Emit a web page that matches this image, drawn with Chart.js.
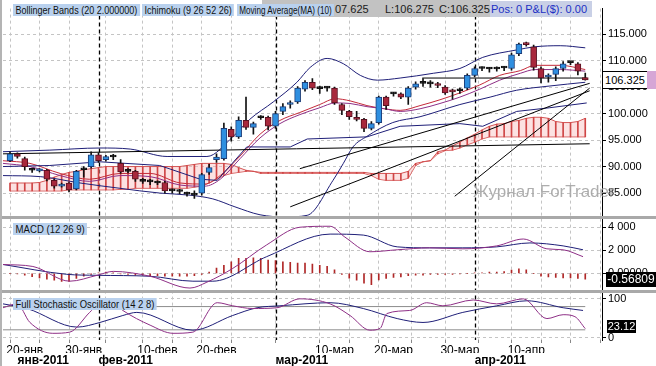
<!DOCTYPE html>
<html>
<head>
<meta charset="utf-8">
<script src="https://cdn.jsdelivr.net/npm/chart.js@4.4.1/dist/chart.umd.min.js"></script>
<style>
html, body { margin: 0; padding: 0; background: #fff; }
#wrap { position: relative; width: 656px; height: 366px; overflow: hidden; font-family: "Liberation Sans", Arial, sans-serif; }
#c { position: absolute; left: 0; top: 0; }
.tag { position: absolute; height: 12px; line-height: 12px; font-size: 11px; background: #b9d1ee; color: #111; padding: 0 3px; white-space: nowrap; transform-origin: 0 0; }
.txt { position: absolute; font-size: 11px; line-height: 12px; white-space: nowrap; color: #1a1a1a; }
.val { position: absolute; text-align: center; white-space: nowrap; }
</style>
</head>
<body>
<div id="wrap">
  <canvas id="c" width="656" height="366"></canvas>

  <div style="position:absolute;left:262px;top:0;width:228px;height:17px;background:#c2c2c2"></div>
  <div class="txt" style="left:335px;top:3px">07.625</div>
  <div class="txt" style="left:385px;top:3px">L:106.275</div>
  <div class="txt" style="left:439px;top:3px">C:106.325</div>
  <div style="position:absolute;left:490px;top:1px;width:102px;height:16px;background:#c9d0e6"></div>
  <div class="txt" style="left:491px;top:3px;color:#1b2fc4">Pos: 0 P&amp;L($): 0.00</div>

  <div class="tag" style="left:13px;top:4px;transform:scaleX(.82)">Bollinger Bands (20 2.000000)</div>
  <div class="tag" style="left:142px;top:4px;transform:scaleX(.82)">Ichimoku (9 26 52 26)</div>
  <div class="tag" style="left:237px;top:4px;transform:scaleX(.74)">Moving Average(MA) (10)</div>
  <div class="tag" style="left:13px;top:223px;transform:scaleX(.87)">MACD (12 26 9)</div>
  <div class="tag" style="left:13px;top:298px;transform:scaleX(.86)">Full Stochastic Oscillator (14 2 8)</div>

  <div style="position:absolute;left:473px;top:182px;font-size:17px;color:rgba(160,160,160,.85);white-space:nowrap">Журнал ForTrader</div>

  <div id="lastBox" class="val" style="left:602px;top:66px;width:44px;height:16px;line-height:16px;border:1px solid #000;background:#fff;font-size:11px;color:#000">106.325</div>
  <div id="lastPink" style="position:absolute;left:647px;top:66px;width:9px;height:18px;background:#d6a6d6"></div>
  <div class="val" style="left:606px;top:272px;width:50px;height:15px;line-height:15px;background:#000;color:#fff;font-size:12px">-0.56809</div>
  <div class="val" style="left:607px;top:320px;width:29px;height:13px;line-height:13px;background:#000;color:#fff;font-size:11px">23.12</div>
</div>

<script>
// ---- candles (daily, 18 Jan - 19 Apr 2011) ----
const opens = [
  91.1, 92.4, 91.5, 89.4, 89.2, 89.3, 87.4, 86.3, 86.9, 85.8,
  89.4, 90.0, 92.2, 91.3, 91.9, 90.6, 89.2, 89.1, 87.3, 87.2,
  87.0, 87.0, 85.5, 85.4, 84.8, 84.6, 85.0, 88.9, 91.3, 91.5,
  97.0, 95.6, 98.7, 97.4, 99.3, 99.3, 97.6, 100.4, 101.7, 102.2,
  104.6, 105.9, 104.8, 104.8, 104.8, 101.7, 100.4, 99.3, 98.9, 97.2,
  98.3, 103.1, 103.7, 103.7, 103.1, 105.0, 105.7, 105.6, 105.6, 105.0,
  104.4, 104.3, 104.8, 107.2, 108.5, 108.4, 108.4, 108.6, 108.5, 111.3,
  113.3, 112.6, 108.5, 106.9, 107.4, 108.5, 109.6, 109.4, 106.8
];
const highs = [
  92.8, 92.6, 91.8, 89.7, 89.6, 89.5, 87.6, 86.9, 87.0, 89.3,
  90.0, 92.8, 92.6, 92.1, 92.3, 91.3, 89.6, 89.3, 87.8, 87.6,
  87.3, 87.2, 85.8, 85.7, 85.2, 85.4, 88.7, 90.4, 92.4, 98.2,
  97.5, 99.4, 103.1, 98.4, 99.6, 99.5, 100.4, 101.9, 102.4, 105.1,
  106.2, 106.6, 105.2, 105.1, 105.0, 101.9, 100.6, 100.4, 99.1, 98.5,
  103.3, 103.3, 104.0, 103.9, 105.1, 106.0, 106.6, 106.2, 105.9, 105.3,
  104.6, 104.8, 107.5, 108.8, 108.8, 108.7, 108.8, 108.9, 111.4, 113.3,
  113.5, 112.9, 108.8, 107.5, 108.8, 109.8, 109.8, 109.6, 107.625
];
const lows = [
  90.9, 91.6, 89.3, 88.9, 89.0, 87.3, 85.9, 86.1, 85.2, 85.6,
  88.0, 89.7, 90.8, 91.0, 91.3, 88.7, 88.8, 87.2, 86.8, 86.6,
  86.6, 85.0, 85.0, 84.9, 84.4, 84.0, 84.6, 88.5, 90.8, 91.2,
  94.8, 95.3, 97.0, 96.1, 98.9, 96.9, 97.2, 99.8, 101.0, 101.9,
  104.2, 104.5, 103.8, 104.2, 101.7, 99.8, 98.9, 98.6, 96.6, 96.9,
  98.0, 100.8, 103.3, 102.8, 101.7, 104.6, 105.1, 105.0, 104.9, 103.6,
  102.7, 103.8, 104.5, 106.9, 108.1, 107.8, 108.0, 108.1, 108.2, 110.9,
  112.7, 108.2, 105.8, 105.9, 106.2, 108.0, 109.2, 107.3, 106.275
];
const closes = [
  92.4, 91.9, 90.0, 89.3, 89.4, 87.6, 86.3, 86.7, 85.6, 89.1,
  89.5, 92.2, 91.1, 91.9, 91.8, 89.0, 89.1, 87.6, 87.2, 87.1,
  86.9, 85.4, 85.4, 85.3, 84.8, 84.7, 88.5, 89.8, 91.8, 97.2,
  95.6, 98.7, 97.4, 98.1, 99.2, 97.6, 100.0, 101.3, 102.0, 104.8,
  105.9, 104.8, 104.7, 104.8, 102.0, 100.6, 99.4, 98.9, 97.2, 98.1,
  103.1, 101.5, 103.7, 103.1, 104.8, 105.6, 105.7, 105.6, 105.3, 103.9,
  104.1, 104.4, 107.2, 108.5, 108.5, 108.4, 108.5, 108.6, 111.1, 113.1,
  113.0, 108.7, 106.7, 107.2, 108.5, 109.4, 109.6, 108.0, 106.325
];

// ---- Ichimoku cloud edges, one value per candle ----
const senkouA = [
  86.9, 86.9, 86.9, 86.9, 87.0, 87.4, 88.0, 88.5, 88.9, 89.1,
  89.4, 89.6, 89.8, 90.0, 90.0, 90.0, 90.0, 90.0, 90.0, 90.0,
  90.0, 90.0, 90.0, 90.0, 90.2, 90.4, 90.6, 90.6, 90.6, 90.6,
  90.4, 89.8, 89.3, 89.1, 88.9, 88.9, 88.9, 88.9, 88.9, 88.9,
  88.9, 88.9, 88.9, 88.9, 88.9, 88.9, 88.9, 88.9, 88.9, 88.7,
  88.7, 88.7, 88.7, 88.7, 89.1, 90.6, 90.9, 91.1, 92.8, 93.1,
  93.9, 94.6, 95.4, 96.1, 96.9, 97.6, 98.0, 98.1, 98.5, 98.7,
  99.1, 99.3, 99.3, 99.1, 98.5, 98.3, 98.3, 98.5, 99.1
];
const senkouB = [
  85.4, 85.4, 85.4, 85.4, 85.4, 85.4, 85.4, 85.4, 85.6, 85.6,
  85.6, 85.6, 85.6, 85.6, 85.6, 85.7, 85.7, 85.9, 85.9, 85.9,
  85.9, 85.9, 85.9, 85.9, 85.9, 86.1, 86.3, 86.9, 87.6, 88.3,
  88.7, 88.9, 89.1, 89.1, 88.7, 88.7, 88.7, 88.7, 88.7, 88.7,
  88.7, 88.7, 88.7, 88.7, 88.7, 88.7, 88.7, 88.7, 88.7, 88.3,
  87.6, 87.4, 87.4, 87.4, 87.8, 90.2, 90.9, 91.1, 92.4, 93.0,
  93.1, 93.5, 94.1, 94.6, 95.2, 95.6, 95.6, 95.6, 95.6, 95.6,
  95.6, 95.6, 95.6, 95.6, 95.6, 95.6, 95.6, 95.6, 95.6
];

// ---- indicator lines, [candle index, value] ----
const bbUpper = [[-0.95,92.8],[5.4,93.1],[12.2,93.5],[16.3,93.3],[21.3,91.9],[26.7,91.9],[30.2,95.6],[32.5,98.9],[35.7,102.2],[38.9,105.9],[40.7,108.7],[43.0,110.4],[45.2,109.4],[47.5,107.2],[49.8,106.3],[52.9,106.7],[57.4,107.6],[61.0,108.5],[64.1,110.6],[68.7,112.0],[71.2,112.6],[74.6,112.8],[78.0,112.4]];
const bbLower = [[-0.95,88.3],[4.1,88.1],[9.5,86.9],[14.9,85.9],[20.3,85.0],[24.4,84.6],[27.5,83.9],[30.5,82.4],[33.9,80.9],[37.3,80.5],[40.3,80.8],[43.8,87.4],[45.2,90.6],[46.5,93.7],[48.4,95.7],[51.9,98.3],[55.6,99.4],[61.0,101.7],[65.1,103.1],[68.7,104.4],[73.2,105.2],[78.0,105.9]];
const kijun = [[-0.95,90.0],[5.4,90.2],[12.2,90.9],[20.3,90.2],[25.8,87.6],[28.1,87.4],[32.1,93.7],[38.0,93.7],[40.3,95.2],[48.4,95.6],[52.9,97.6],[61.0,98.1],[64.1,97.6],[68.7,100.4],[73.2,101.1],[78.2,102.0]];
const ma10 = [[-0.95,91.1],[2.7,90.6],[6.8,88.7],[10.8,87.6],[14.9,88.7],[19.0,88.7],[23.1,86.9],[26.4,86.7],[28.5,88.3],[31.2,92.0],[33.9,96.1],[36.6,98.7],[39.3,100.2],[42.0,101.7],[44.1,102.8],[46.1,102.4],[48.4,101.5],[50.8,100.9],[52.9,100.6],[55.6,101.5],[58.3,102.6],[61.0,103.9],[63.7,105.4],[66.4,107.2],[69.2,108.1],[71.2,109.1],[74.6,109.1],[78.0,108.3]];
const tenkan = [[-0.95,90.6],[2.7,90.0],[6.8,88.3],[10.8,87.2],[14.9,88.3],[19.0,88.1],[23.1,86.5],[26.4,86.3],[28.5,87.6],[31.2,91.5],[33.9,95.4],[36.6,98.1],[39.3,99.8],[42.0,101.1],[44.1,102.0],[46.1,101.9],[48.4,101.3],[50.8,100.9],[52.9,100.4],[55.6,100.9],[58.3,101.9],[61.0,103.1],[63.7,104.6],[66.4,106.3],[69.2,107.6],[71.2,108.3],[74.6,108.3],[78.0,108.0]];
// hand-drawn trend lines: [x1, price1, x2, price2]
const trendLines = [[55.9,106.7,78.2,106.7],[-0.95,92.4,78.6,94.3],[38.0,82.4,78.6,104.3],[39.3,89.6,78.6,105.7],[60.3,84.4,78.6,104.8]];

// ---- MACD ----
const macdLine = [[-0.95,766],[3.1,596],[8.1,-681],[11.8,-170],[14.0,170],[19.0,-255],[24.4,-1277],[26.7,-766],[30.2,426],[34.8,2468],[39.3,4000],[43.4,4085],[45.4,3149],[48.8,1872],[52.5,2043],[56.9,2213],[61.4,2128],[66.0,2383],[69.6,2979],[72.8,2128],[75.0,2043],[77.7,1447]];
const signalLine = [[-0.95,766],[7.7,-85],[11.8,-170],[19.0,-255],[24.8,-681],[27.5,-681],[34.8,1447],[43.4,3404],[47.9,3319],[52.5,2298],[56.9,2213],[61.4,2213],[66.0,2298],[70.5,2638],[75.0,2383],[77.7,2043]];
const hist = [
  0, -50, -150, -280, -400, -500, -600, -700, -700, -450,
  -250, -100, 50, 100, 50, -50, -100, -150, -150, -200,
  -200, -250, -250, -250, -250, -200, -100, 100, 450, 700,
  1000, 1300, 1300, 1350, 1300, 1150, 1100, 1000, 950, 880,
  880, 800, 700, 600, 300, -100, -425, -600, -850, -990,
  -570, -450, -350, -300, -200, -150, -150, -100, -100, -100,
  -100, -50, 0, 50, 50, 100, 100, 150, 280, 400,
  300, 0, -250, -300, -350, -400, -400, -450, -500
];

// ---- Full stochastic ----
const stochK = [[-0.95,77],[0.95,87],[2.7,39],[5.8,11],[8.1,14],[10.8,65],[11.8,82],[14.0,90],[15.3,70],[19.0,32],[22.1,11],[24.8,14],[28.1,90],[30.2,82],[32.9,75],[36.2,77],[39.3,100],[43.4,87],[46.1,57],[48.8,19],[50.2,24],[51.1,62],[54.2,70],[56.5,90],[58.7,82],[62.8,97],[66.0,87],[69.6,100],[72.8,49],[75.0,59],[76.6,54],[78.0,23]];
const stochD = [[-0.95,87],[2.3,75],[9.1,27],[12.2,39],[15.3,57],[17.2,65],[24.8,19],[30.2,57],[33.5,77],[36.6,82],[43.4,90],[47.9,75],[52.5,49],[56.0,39],[61.4,65],[66.0,82],[70.1,95],[75.0,77],[77.7,70]];
const stochLevels = [80, 20];

// ---- axes ----
const priceTicks = [85, 90, 95, 100, 105, 110, 115];
const macdTicks = [0, 2000, 4000];
const macdTickLabels = ['0.00000', '2 000', '4 000'];
const stochTicks = [0, 50, 100];
const gridIdx = [2, 6, 10, 16, 20, 24, 28, 32, 40, 44, 48, 52, 57, 61, 66, 70, 74, 78];
const dayIdx = [2, 10, 20, 28, 44, 52, 61, 70];
const dayLabels = ['20-янв', '30-янв', '10-фев', '20-фев', '10-мар', '20-мар', '30-мар', '10-апр'];
const monthIdx = [1, 12, 36, 63];
const monthLabels = ['янв-2011', 'фев-2011', 'мар-2011', 'апр-2011'];
const monthStartIdx = [12, 36, 63];

const FONT = '"Liberation Sans", Arial, sans-serif';
const NAVY = '#1f1f78';
const PURPLE = '#8e2f86';
const N = closes.length;
const idx = closes.map((_, i) => i);
const pts = arr => arr.map(([x, y]) => ({x, y}));
const isDoji = i => Math.abs(closes[i] - opens[i]) < 0.15;

function line(label, data, color, yAxisID, extra) {
  return Object.assign({
    type: 'line', label, data: pts(data), yAxisID,
    borderColor: color, borderWidth: 1, pointRadius: 0,
    cubicInterpolationMode: 'monotone', fill: false, order: 4
  }, extra || {});
}

const datasets = [
  // candle bodies
  {
    type: 'bar', label: 'body', yAxisID: 'y', order: 0, grouped: false,
    data: idx.map(i => ({x: i, y: [opens[i], closes[i]]})),
    backgroundColor: idx.map(i => isDoji(i) ? '#111' : (closes[i] > opens[i] ? '#2f8fe0' : '#a8283c')),
    borderColor: idx.map(i => isDoji(i) ? '#111' : (closes[i] > opens[i] ? '#1c3d78' : '#581020')),
    borderWidth: 1, borderSkipped: false, barThickness: 6, minBarLength: 2
  },
  // wicks
  {
    type: 'bar', label: 'wick', yAxisID: 'y', order: 1, grouped: false,
    data: idx.map(i => ({x: i, y: [lows[i], highs[i]]})),
    backgroundColor: '#111', barThickness: 1
  },
  // cloud
  line('Senkou A', senkouA.map((v, i) => [i, v]), '#d45656', 'y',
       {fill: '+1', backgroundColor: 'rgba(248,190,190,0.45)', cubicInterpolationMode: 'default', tension: 0, order: 9}),
  line('Senkou B', senkouB.map((v, i) => [i, v]), '#d45656', 'y',
       {cubicInterpolationMode: 'default', tension: 0, order: 9}),
  {
    type: 'bar', label: 'hatch', yAxisID: 'y', order: 8, grouped: false,
    data: idx.map(i => ({x: i, y: [senkouA[i], senkouB[i]]})),
    backgroundColor: '#cf4545', barThickness: 1
  },
  line('BB upper', bbUpper, NAVY, 'y'),
  line('BB lower', bbLower, NAVY, 'y'),
  line('Kijun', kijun, NAVY, 'y', {cubicInterpolationMode: 'default', tension: 0}),
  line('Tenkan', tenkan, PURPLE, 'y'),
  line('MA(10)', ma10, '#c42a3a', 'y'),
  ...trendLines.map((t, k) => line('trend' + k, [[t[0], t[1]], [t[2], t[3]]], '#000', 'y',
       {cubicInterpolationMode: 'default', tension: 0, order: 3})),
  // MACD
  {
    type: 'bar', label: 'hist', yAxisID: 'yMacd', order: 6, grouped: false,
    data: idx.map(i => ({x: i, y: hist[i]})),
    backgroundColor: '#b02828', barThickness: 1
  },
  line('MACD', macdLine, PURPLE, 'yMacd'),
  line('Signal', signalLine, NAVY, 'yMacd'),
  // Stochastic
  ...stochLevels.map(v => line('lvl' + v, [[-0.95, v], [N - 1, v]], '#8c8c8c', 'yStoch',
       {cubicInterpolationMode: 'default', tension: 0, order: 7})),
  line('%K', stochK, PURPLE, 'yStoch'),
  line('%D', stochD, NAVY, 'yStoch')
];

const decor = {
  id: 'decor',
  beforeDatasetsDraw(chart) {
    const {ctx, chartArea: a, scales: {x}} = chart;
    ctx.save();
    ctx.strokeStyle = '#000';
    ctx.lineWidth = 1.3;
    ctx.setLineDash([4, 3]);
    monthStartIdx.forEach(v => {
      const px = Math.round(x.getPixelForValue(v)) + 0.5;
      ctx.beginPath();
      ctx.moveTo(px, a.top);
      ctx.lineTo(px, a.bottom);
      ctx.stroke();
    });
    ctx.restore();
  },
  afterDraw(chart) {
    const {ctx, scales: {y, yMacd}} = chart;
    ctx.save();
    ctx.fillStyle = '#a9a9a9';
    [y.bottom, yMacd.bottom].forEach(b => ctx.fillRect(0, Math.round(b) - 1, chart.width, 3));
    ctx.fillStyle = '#b4b4b4';
    ctx.fillRect(0, 0, 2, chart.height);
    ctx.restore();
    const top = Math.round(y.getPixelForValue(closes[N - 1])) - 9;
    document.getElementById('lastBox').style.top = top + 'px';
    document.getElementById('lastPink').style.top = top + 'px';
  }
};

const gridOpts = {color: '#c4c4c4', lineWidth: 1, drawTicks: true, tickLength: 4, tickColor: '#000'};
const tickFont = {family: FONT, size: 11};

function yAxis(weight, min, max, ticks, labelFn) {
  return {
    type: 'linear', position: 'right', stack: 'panes', stackWeight: weight,
    min, max,
    afterBuildTicks: s => { s.ticks = ticks.map(v => ({value: v})); },
    afterFit: s => { s.width = 54; },
    ticks: {color: '#000', font: tickFont, padding: 2, callback: labelFn},
    grid: gridOpts,
    border: {display: true, color: '#000', width: 1, dash: [3, 3]}
  };
}

Chart.defaults.font.family = FONT;

new Chart(document.getElementById('c'), {
  type: 'line',
  data: {datasets},
  options: {
    responsive: false,
    animation: false,
    devicePixelRatio: 1,
    events: [],
    layout: {padding: {left: 3, top: 2, right: 0, bottom: 0}},
    plugins: {legend: {display: false}, tooltip: {enabled: false}},
    scales: {
      x: {
        type: 'linear', position: 'bottom', min: -0.95, max: 80.27, offset: false,
        afterBuildTicks: s => { s.ticks = gridIdx.map(v => ({value: v})); },
        afterFit: s => { s.height = 13; },
        ticks: {
          autoSkip: false, maxRotation: 0, padding: 0, color: '#000', font: {family: FONT, size: 12},
          callback: v => { const k = dayIdx.indexOf(v); return k < 0 ? '' : dayLabels[k]; }
        },
        grid: {color: '#c4c4c4', lineWidth: 1, drawTicks: true, tickLength: 3, tickColor: '#888'},
        border: {display: false, dash: [3, 3]}
      },
      x2: {
        type: 'linear', position: 'bottom', min: -0.95, max: 80.27, offset: false,
        afterBuildTicks: s => { s.ticks = monthIdx.map(v => ({value: v})); },
        afterFit: s => { s.height = 13; },
        ticks: {
          autoSkip: false, maxRotation: 0, padding: 0, align: 'start', color: '#000',
          font: {family: FONT, size: 12, weight: 'bold'},
          callback: v => monthLabels[monthIdx.indexOf(v)]
        },
        grid: {display: false, drawTicks: false},
        border: {display: false}
      },
      y: yAxis(213, 80.4, 119.8, priceTicks, v => v.toFixed(3)),
      yMacd: yAxis(75, -1530, 4850, macdTicks, v => macdTickLabels[macdTicks.indexOf(v)]),
      yStoch: yAxis(50, -6.3, 120.3, stochTicks, v => String(v))
    }
  },
  plugins: [decor]
});
</script>
</body>
</html>
